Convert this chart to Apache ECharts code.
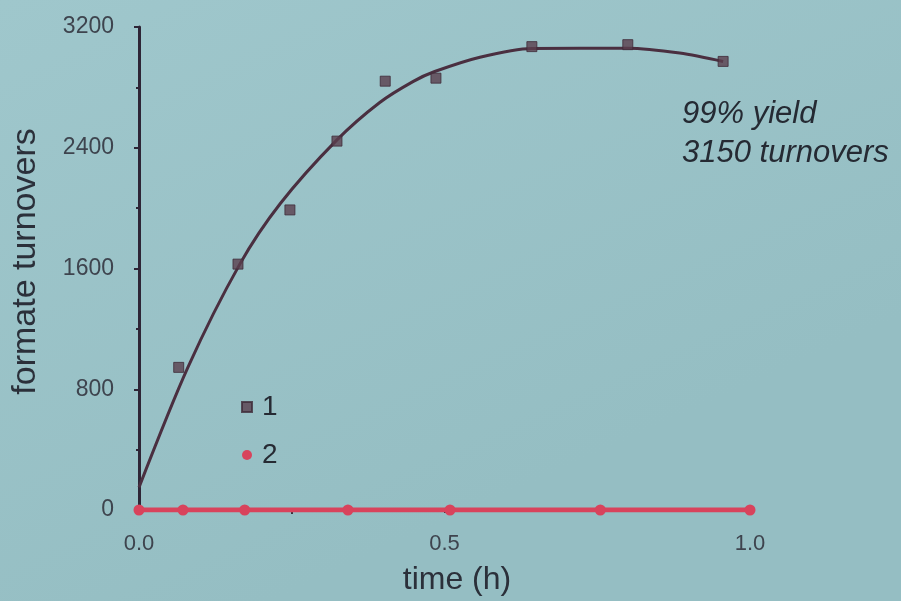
<!DOCTYPE html>
<html>
<head>
<meta charset="utf-8">
<script src="https://cdn.jsdelivr.net/npm/echarts@6/dist/echarts.min.js"></script>
<style>
  html, body { margin: 0; padding: 0; background: #9cc4c9; }
  #chart { width: 901px; height: 601px; }
</style>
</head>
<body>
<div id="chart"></div>
<script>
// Time axis (h) and measured formate turnovers
const timeOne = [0.065, 0.162, 0.247, 0.324, 0.403, 0.486, 0.643, 0.800, 0.956];
const turnoversOne = [945, 1629, 1988, 2444, 2841, 2861, 3070, 3083, 2972];

const timeTwo = [0, 0.072, 0.173, 0.342, 0.509, 0.755, 1.0];
const turnoversTwo = [0, 0, 0, 0, 0, 0, 0];

// Smoothed trend through series 1
const fitTime = [0, 0.080, 0.165, 0.231, 0.324, 0.394, 0.449, 0.484, 0.558, 0.643, 0.800, 0.885, 0.956];
const fitTurnovers = [150, 945, 1629, 2029, 2452, 2700, 2840, 2905, 3000, 3058, 3060, 3028, 2972];

const yTicks = [0, 800, 1600, 2400, 3200];
const xTicks = [0, 0.5, 1.0];
const annotation = ['99% yield', '3150 turnovers'];

const pairs = (xs, ys) => xs.map((x, i) => [x, ys[i]]);

const font = '"Liberation Sans", Arial, sans-serif';
const chart = echarts.init(document.getElementById('chart'));

chart.setOption({
  backgroundColor: {
    type: 'linear', x: 0, y: 0, x2: 0.3, y2: 1,
    colorStops: [
      { offset: 0, color: '#9fc7cc' },
      { offset: 1, color: '#95bec3' }
    ]
  },
  animation: false,
  grid: { left: 139, right: 151, top: 27, bottom: 83 },
  xAxis: {
    type: 'value',
    min: 0, max: 1.0, interval: 0.5,
    name: 'time (h)',
    nameLocation: 'middle',
    nameGap: 54,
    nameTextStyle: { fontFamily: font, fontSize: 32, color: '#2b303a', padding: [0, 0, 0, 25] },
    axisLine: { show: true, lineStyle: { color: '#3a2f3c', width: 2 } },
    axisTick: { show: true, inside: false, length: 3, lineStyle: { color: '#3a2f3c', width: 2 } },
    minorTick: { show: true, splitNumber: 2, length: 4, lineStyle: { color: '#3a2f3c', width: 2 } },
    splitLine: { show: false },
    axisLabel: {
      fontFamily: font, fontSize: 22, color: '#3e444e', margin: 23,
      formatter: v => xTicks.includes(v) ? v.toFixed(1) : ''
    }
  },
  yAxis: {
    type: 'value',
    min: 0, max: 3200, interval: 800,
    name: 'formate turnovers',
    nameLocation: 'middle',
    nameGap: 96,
    nameTextStyle: { fontFamily: font, fontSize: 34, color: '#2b303a', padding: [0, 0, 0, 14] },
    axisLine: { show: true, lineStyle: { color: '#2e2536', width: 3 } },
    axisTick: { show: true, length: 5, lineStyle: { color: '#2e2536', width: 2 } },
    minorTick: { show: true, splitNumber: 2, length: 3, lineStyle: { color: '#2e2536', width: 2 } },
    splitLine: { show: false },
    axisLabel: {
      fontFamily: font, fontSize: 23, color: '#3e444e', margin: 25,
      formatter: v => yTicks.includes(v) ? String(v) : ''
    }
  },
  legend: {
    orient: 'vertical',
    left: 236, top: 388,
    itemGap: 20,
    itemWidth: 10, itemHeight: 10,
    textStyle: { fontFamily: font, fontSize: 28, color: '#262a33', padding: [0, 0, 0, 5] },
    data: [
      { name: '1', icon: 'rect' },
      { name: '2', icon: 'circle' }
    ]
  },
  graphic: [
    {
      type: 'text', left: 682, top: 95,
      style: {
        text: annotation.join('\n'),
        fontFamily: font, fontSize: 31, fontStyle: 'italic',
        lineHeight: 39, fill: '#252a33'
      }
    }
  ],
  series: [
    {
      name: 'fit',
      type: 'line',
      data: pairs(fitTime, fitTurnovers),
      smooth: 0.3,
      showSymbol: false,
      lineStyle: { color: '#4a2f40', width: 3 },
      z: 3,
      silent: true
    },
    {
      name: '1',
      type: 'scatter',
      data: pairs(timeOne, turnoversOne),
      symbol: 'rect',
      symbolSize: 10,
      itemStyle: { color: '#5a3f4e', borderColor: '#3e2a38', borderWidth: 1 },
      z: 4
    },
    {
      name: '2',
      type: 'line',
      data: pairs(timeTwo, turnoversTwo),
      symbol: 'circle',
      symbolSize: 11,
      lineStyle: { color: '#d8435c', width: 5 },
      itemStyle: { color: '#d8435c' },
      z: 5
    }
  ]
});
</script>
</body>
</html>
